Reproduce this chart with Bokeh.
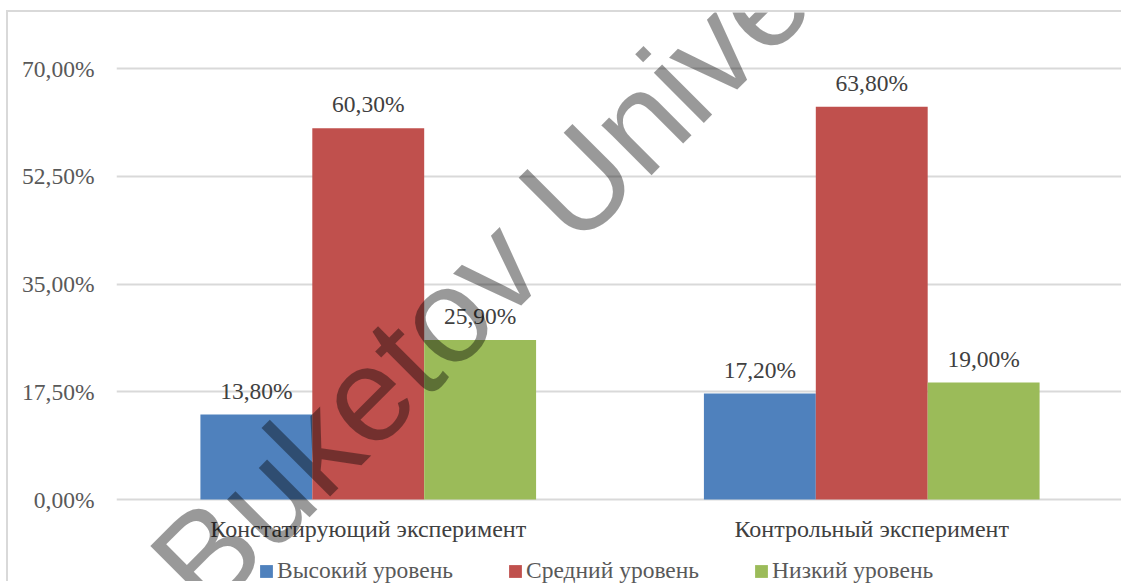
import math
from bokeh.plotting import figure
from bokeh.models import (FactorRange, Range1d, ColumnDataSource, FixedTicker, CustomJSTickFormatter,
                          Legend, LegendItem, Label)
from bokeh.transform import dodge
from bokeh.core.properties import value
from bokeh.embed import file_html
from bokeh.resources import INLINE

# ---- data ----
categories = ["Констатирующий эксперимент", "Контрольный эксперимент"]
series_names = ["Высокий уровень", "Средний уровень", "Низкий уровень"]
high = [13.8, 17.2]
mid = [60.3, 63.8]
low = [25.9, 19.0]
y_ticks = [0, 17.5, 35, 52.5, 70]
watermark = "Buketov University"

colors = ["#4F81BD", "#C0504D", "#9BBB59"]
FONT = "Liberation Serif"
FS = "23.5px"
FS2 = "24px"

def fmt(v):
    return ("%.2f" % v).replace(".", ",") + "%"

src = ColumnDataSource(dict(
    cat=categories, high=high, mid=mid, low=low,
    high_l=[fmt(v) for v in high], mid_l=[fmt(v) for v in mid], low_l=[fmt(v) for v in low],
))

# frame spans the whole canvas height so that legend / watermark are not clipped
p = figure(x_range=FactorRange(*categories), y_range=Range1d(-13.64, 79.1),
           width=1115, height=571, output_backend="svg", toolbar_location=None,
           x_axis_location=None,
           min_border_left=108, min_border_right=0, min_border_top=0, min_border_bottom=0)
p.styles = {"border-top": "2px solid #d9d9d9", "border-left": "2px solid #d9d9d9",
            "margin-top": "10px", "margin-left": "6px"}
p.outline_line_color = None
p.background_fill_color = "white"
p.border_fill_color = "white"

bw = 1 / 4.5
cols = ["high", "mid", "low"]
offs = [-bw, 0, bw]
items = []
for c, o, col, name in zip(cols, offs, colors, series_names):
    r = p.vbar(x=dodge("cat", o, range=p.x_range), top=c, width=bw, bottom=0, source=src,
               fill_color=col, line_color=None)
    items.append(LegendItem(label=name, renderers=[r]))
    p.text(x=dodge("cat", o, range=p.x_range), y=c, text=c + "_l", source=src,
           text_align="center", text_baseline="alphabetic", y_offset=-24,
           text_font=value(FONT), text_font_size=FS, text_color="#404040")

# category labels under the 0 line
p.text(x="cat", y=0, text="cat", source=src, text_align="center", text_baseline="alphabetic",
       y_offset=29, text_font=value(FONT), text_font_size=FS2, text_color="#404040")

# y axis
p.yaxis.ticker = FixedTicker(ticks=y_ticks)
p.yaxis.formatter = CustomJSTickFormatter(code="return tick.toFixed(2).replace('.', ',') + '%';")
p.yaxis.axis_line_color = None
p.yaxis.major_tick_line_color = None
p.yaxis.minor_tick_line_color = None
p.yaxis.major_tick_out = 0
p.yaxis.major_tick_in = 0
p.yaxis.major_label_standoff = 22
p.yaxis.major_label_text_font = FONT
p.yaxis.major_label_text_font_size = FS
p.yaxis.major_label_text_color = "#595959"

p.xgrid.grid_line_color = None
p.ygrid.grid_line_color = "#D9D9D9"
p.ygrid.grid_line_width = 2

legend = Legend(items=items, orientation="horizontal", location=(142, -1),
                glyph_width=16, glyph_height=16, label_standoff=3, spacing=54,
                padding=0, margin=0, border_line_color=None, background_fill_alpha=0,
                label_text_font=FONT, label_text_font_size=FS, label_text_color="#595959")
p.add_layout(legend, "center")

wm = Label(x=58.4, y=-2.6, x_units="screen", y_units="screen", text=watermark,
           angle=math.pi / 4, text_font="Liberation Sans", text_font_size="134px",
           text_color="black", text_alpha=0.4, text_align="left", text_baseline="alphabetic")
p.add_layout(wm)

open("out.html", "w").write(file_html(p, INLINE))
